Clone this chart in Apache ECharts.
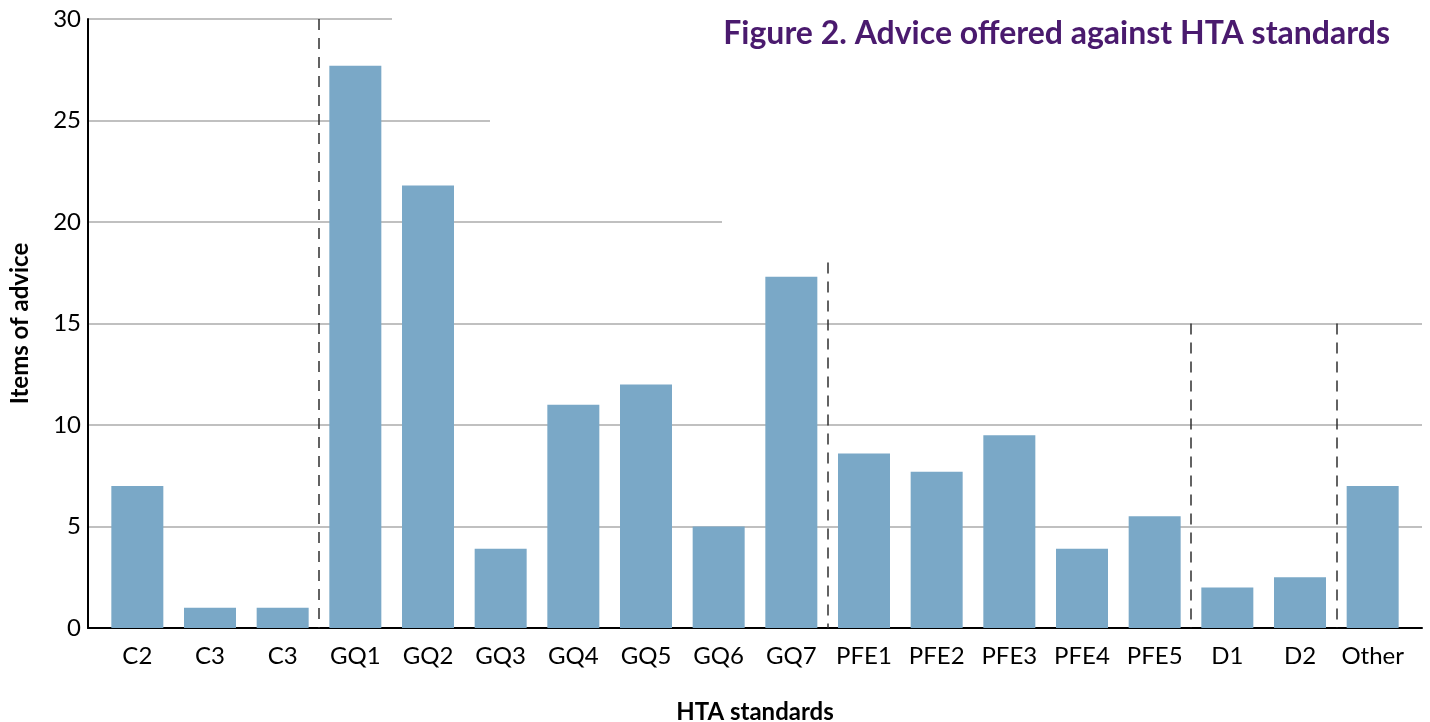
<!DOCTYPE html>
<html>
<head>
<meta charset="utf-8">
<title>Advice offered against HTA standards</title>
<script src="https://cdn.jsdelivr.net/npm/echarts@6/dist/echarts.min.js"></script>
<style>
  html, body { margin: 0; padding: 0; background: #ffffff; }
  #chart { width: 1430px; height: 722px; }
</style>
</head>
<body>
<div id="chart"></div>
<script>
// HTA standards (category labels along the x axis)
const standards = ['C2', 'C3', 'C3', 'GQ1', 'GQ2', 'GQ3', 'GQ4', 'GQ5', 'GQ6', 'GQ7',
                   'PFE1', 'PFE2', 'PFE3', 'PFE4', 'PFE5', 'D1', 'D2', 'Other'];
// Items of advice per standard
const itemsOfAdvice = [7, 1, 1, 27.7, 21.8, 3.9, 11, 12, 5, 17.3,
                       8.6, 7.7, 9.5, 3.9, 5.5, 2, 2.5, 7];
// Y axis range and tick step
const yMin = 0, yMax = 30, yStep = 5;
// Group dividers: index of the last category in each group, and the height the dashed line reaches
const dividerAfter = [2, 9, 14, 16];
const dividerTop = [30, 18, 15, 15];

const FONT = 'Lato, "Open Sans", sans-serif';
const chart = echarts.init(document.getElementById('chart'), null, { renderer: 'canvas' });

const plotTop = 19, plotHeight = 609;

const option = {
  animation: false,
  backgroundColor: '#ffffff',
  title: {
    text: 'Figure 2. Advice offered against HTA standards',
    right: 35,
    top: 13,
    textStyle: { color: '#4a1a6e', fontFamily: FONT, fontWeight: 'bold', fontSize: 32 }
  },
  grid: [
    // frame: axis lines, value ticks and horizontal rules
    { left: 88, width: 1334, top: plotTop, height: plotHeight, outerBoundsMode: 'none', containLabel: false },
    // bars, inset from the frame on both sides
    { left: 101, width: 1308, top: plotTop, height: plotHeight, outerBoundsMode: 'none', containLabel: false }
  ],
  xAxis: [
    {
      gridIndex: 0, type: 'category', data: [''],
      axisLine: { show: true, lineStyle: { color: '#000000', width: 2 } },
      axisTick: { show: false }, axisLabel: { show: false },
      name: 'HTA standards', nameLocation: 'middle', nameGap: 72,
      nameTextStyle: { color: '#000000', fontFamily: FONT, fontWeight: 'bold', fontSize: 24 }
    },
    {
      gridIndex: 1, type: 'category', data: standards,
      axisLine: { show: false }, axisTick: { show: false },
      axisLabel: { color: '#000000', fontFamily: FONT, fontSize: 24, margin: 16, interval: 0 }
    },
    {
      gridIndex: 1, type: 'value', min: -0.5, max: standards.length - 0.5, show: false
    }
  ],
  yAxis: [
    {
      gridIndex: 0, type: 'value', min: yMin, max: yMax, interval: yStep,
      axisLine: { show: true, lineStyle: { color: '#000000', width: 2 } },
      axisTick: { show: false },
      axisLabel: { color: '#000000', fontFamily: FONT, fontSize: 24, margin: 7 },
      splitLine: { show: true, lineStyle: { color: '#c0c0c0', width: 2 } },
      name: 'Items of advice', nameLocation: 'middle', nameGap: 56, nameRotate: 90,
      nameTextStyle: { color: '#000000', fontFamily: FONT, fontWeight: 'bold', fontSize: 24 }
    },
    { gridIndex: 1, type: 'value', min: yMin, max: yMax, interval: yStep, show: false }
  ],
  // white panel behind the heading that trims the upper rules
  graphic: [
    { type: 'rect', z: 1, silent: true, shape: { x: 392, y: 0, width: 1100, height: 100 }, style: { fill: '#ffffff' } },
    { type: 'rect', z: 1, silent: true, shape: { x: 490, y: 100, width: 1000, height: 100 }, style: { fill: '#ffffff' } },
    { type: 'rect', z: 1, silent: true, shape: { x: 722, y: 200, width: 800, height: 62 }, style: { fill: '#ffffff' } }
  ],
  series: [
    {
      type: 'bar',
      xAxisIndex: 1, yAxisIndex: 1,
      data: itemsOfAdvice,
      barWidth: 52,
      itemStyle: { color: '#7aa8c7' },
      z: 3
    },
    {
      type: 'lines',
      coordinateSystem: 'cartesian2d',
      xAxisIndex: 2, yAxisIndex: 1,
      z: 4,
      silent: true,
      lineStyle: { color: '#2e2e2e', width: 1.5, type: [11, 8], opacity: 1 },
      data: dividerAfter.map((idx, i) => ({
        coords: [[idx + 0.5, dividerTop[i]], [idx + 0.5, yMin]]
      }))
    }
  ]
};

chart.setOption(option);
</script>
</body>
</html>
